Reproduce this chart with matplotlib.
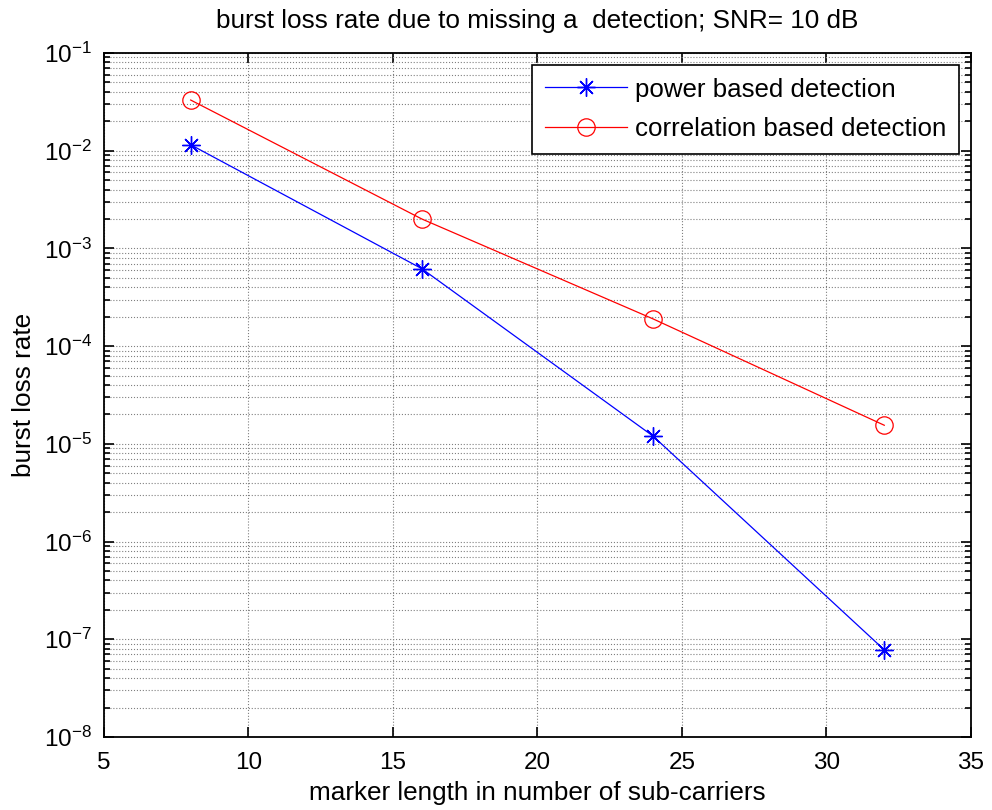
import math
import matplotlib
matplotlib.use("Agg")
import matplotlib.pyplot as plt
from matplotlib.ticker import LogLocator, FixedLocator, NullFormatter, FuncFormatter

plt.rcParams['font.family'] = ['Liberation Sans', 'DejaVu Sans']
plt.rcParams['mathtext.fontset'] = 'custom'
plt.rcParams['mathtext.rm'] = 'Liberation Sans'
plt.rcParams['mathtext.it'] = 'Liberation Sans'
plt.rcParams['axes.unicode_minus'] = False

marker_len = [8, 16, 24, 32]
power_rate = [1.15e-2, 6.2e-4, 1.2e-5, 7.8e-8]
corr_rate = [3.3e-2, 2.0e-3, 1.9e-4, 1.55e-5]
x_ticks = [5, 10, 15, 20, 25, 30, 35]
y_exps = [-8, -7, -6, -5, -4, -3, -2, -1]

fig = plt.figure(figsize=(9.92, 8.10), dpi=100)
ax = fig.add_axes([0.1048, 0.0901, 0.8740, 0.8445])

ax.semilogy(marker_len, power_rate, color='blue', lw=0.9,
            marker=(8, 2, 0), ms=13, mew=1.0, label='power based detection')
ax.semilogy(marker_len, corr_rate, color='red', lw=0.9,
            marker='o', ms=12.5, mfc='none', mew=0.9, label='correlation based detection')

ax.set_xlim(5, 35)
ax.set_ylim(1e-8, 1e-1)
ax.set_xticks(x_ticks)
ax.yaxis.set_major_locator(FixedLocator([10.0**e for e in y_exps]))
ax.yaxis.set_major_formatter(FuncFormatter(lambda v, p: r'$\mathregular{10^{%d}}$' % round(math.log10(v))))
ax.yaxis.set_minor_locator(LogLocator(base=10, subs=range(2, 10), numticks=100))
ax.yaxis.set_minor_formatter(NullFormatter())

ax.grid(True, which='major', ls=':', color='#808080', lw=0.8)
ax.grid(True, which='minor', axis='y', ls=':', color='#808080', lw=0.8)

ax.tick_params(which='both', direction='in', top=True, right=True, labelsize=17.5, width=1.2)
ax.tick_params(which='major', length=7)
ax.tick_params(which='minor', length=4)
ax.tick_params(axis='x', which='major', pad=11)
ax.tick_params(axis='y', which='major', pad=8.5)
for s in ax.spines.values():
    s.set_linewidth(1.3)

ax.set_title('burst loss rate due to missing a  detection; SNR= 10 dB', fontsize=18.8, pad=18)
ax.set_xlabel('marker length in number of sub-carriers', fontsize=18.8, labelpad=5)
ax.set_ylabel('burst loss rate', fontsize=18.8, labelpad=6)

leg = ax.legend(loc='upper right', fontsize=18.6, fancybox=False, edgecolor='black',
                framealpha=1, borderaxespad=0.45, handlelength=3.2, handletextpad=0.3,
                borderpad=0.5, labelspacing=0.6)
leg.get_frame().set_linewidth(1.2)

fig.savefig('out.png', dpi=100)
